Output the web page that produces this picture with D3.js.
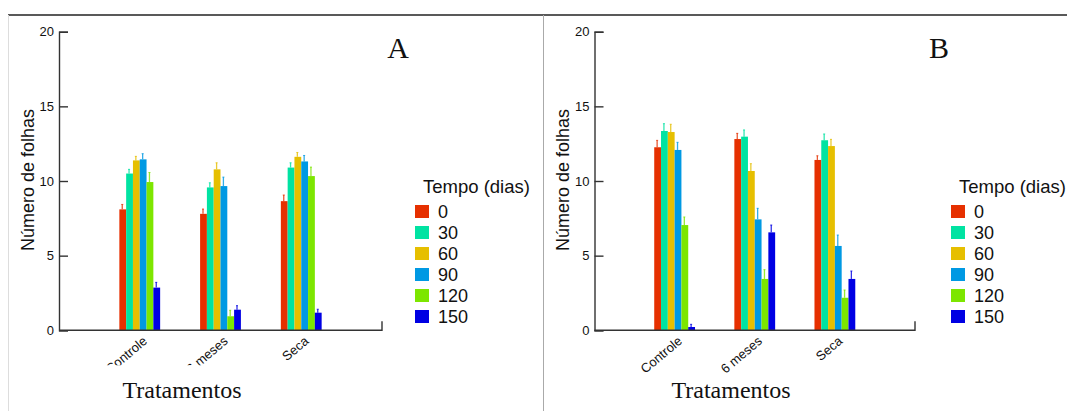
<!DOCTYPE html>
<html>
<head>
<meta charset="utf-8">
<title>Número de folhas</title>
<script src="https://d3js.org/d3.v7.min.js"></script>
<style>
  body { margin: 0; background: #fff; }
  svg text { font-family: "Liberation Sans", Arial, sans-serif; }
</style>
</head>
<body>
<svg width="1067" height="411"></svg>
<script>
    // data
    const categories = ["Controle", "6 meses", "Seca"];
    const series = ["0", "30", "60", "90", "120", "150"];
    const colors = ["#e63000", "#00e3a2", "#e6bf00", "#0099e3", "#7de600", "#0000e3"];
    const yTicks = [0, 5, 10, 15, 20];

    // panel A: mean per series (rows) and category (cols), then upper error
    const meanA = [
        [8.1, 7.8, 8.65],
        [10.5, 9.57, 10.9],
        [11.38, 10.78, 11.62],
        [11.45, 9.66, 11.31],
        [9.93, 0.94, 10.33],
        [2.86, 1.38, 1.18]
    ];
    const errA = [
        [8.43, 8.12, 9.06],
        [10.78, 9.88, 11.22],
        [11.65, 11.22, 11.91],
        [11.83, 10.26, 11.71],
        [10.57, 1.34, 10.93],
        [3.21, 1.65, 1.41]
    ];
    // panel B
    const meanB = [
        [12.26, 12.81, 11.41],
        [13.35, 12.97, 12.73],
        [13.28, 10.67, 12.34],
        [12.08, 7.43, 5.65],
        [7.05, 3.44, 2.18],
        [0.22, 6.56, 3.44]
    ];
    const errB = [
        [12.72, 13.19, 11.69],
        [13.84, 13.42, 13.15],
        [13.8, 11.16, 12.79],
        [12.59, 8.17, 6.38],
        [7.59, 4.06, 2.7],
        [0.4, 7.05, 3.97]
    ];

    const svg = d3.select("svg");

    // frame lines
    svg.append("line").attr("x1", 8).attr("x2", 1067).attr("y1", 15).attr("y2", 15)
        .attr("stroke", "#222").attr("stroke-width", 1.3);
    svg.append("line").attr("x1", 8.5).attr("x2", 8.5).attr("y1", 15).attr("y2", 411)
        .attr("stroke", "#ddd").attr("stroke-width", 1);
    svg.append("line").attr("x1", 543.5).attr("x2", 543.5).attr("y1", 15).attr("y2", 411)
        .attr("stroke", "#aaa").attr("stroke-width", 1);

    const panel = (cfg, means, errs) => {
        const y = d3.scaleLinear().domain([0, 20]).range([330.3, 31.7]);
        const x = d3.scalePoint().domain(categories).range([cfg.x0, cfg.x1]).padding(1);
        const xs = d3.scaleBand().domain(series).range([-20.4, 20.4]).padding(0);

        const g = svg.append("g");

        // bars
        series.forEach((s, i) => {
            const col = colors[i];
            categories.forEach((c, j) => {
                const bx = x(c) + xs(s);
                g.append("rect")
                    .attr("x", bx)
                    .attr("y", y(means[i][j]))
                    .attr("width", xs.bandwidth())
                    .attr("height", y(0) - y(means[i][j]))
                    .attr("fill", col);
                const ex = bx + xs.bandwidth() / 2 - 0.5;
                g.append("line")
                    .attr("x1", ex).attr("x2", ex)
                    .attr("y1", y(means[i][j])).attr("y2", y(errs[i][j]))
                    .attr("stroke", col).attr("stroke-width", 1.3).attr("opacity", 0.8);
                g.append("line")
                    .attr("x1", ex - 1).attr("x2", ex + 1)
                    .attr("y1", y(errs[i][j])).attr("y2", y(errs[i][j]))
                    .attr("stroke", col).attr("stroke-width", 1).attr("opacity", 0.8);
            });
        });

        // y axis
        const ya = g.append("g")
            .attr("transform", `translate(${cfg.x0},0)`)
            .call(d3.axisLeft(y).tickValues(yTicks).tickSize(-9).tickPadding(5));
        ya.select(".domain").attr("stroke", "#333").attr("stroke-width", 1.4);
        ya.selectAll(".tick line").attr("stroke", "#333").attr("stroke-width", 1.4);
        ya.selectAll(".tick text").attr("font-size", 13).attr("fill", "#111")
            .attr("font-family", "Liberation Sans, Arial, sans-serif");

        // x axis, labels clipped below like the original
        const clipId = "clip" + cfg.name;
        svg.append("clipPath").attr("id", clipId).append("rect")
            .attr("x", cfg.x0 - 40).attr("y", y(0)).attr("width", cfg.x1 - cfg.x0 + 40).attr("height", cfg.clipH);
        const xa = g.append("g")
            .attr("clip-path", `url(#${clipId})`)
            .append("g")
            .attr("transform", `translate(0,${y(0)})`)
            .call(d3.axisBottom(x).tickSize(0).tickPadding(8));
        xa.select(".domain").remove();
        xa.selectAll(".tick text")
            .attr("font-size", 13).attr("fill", "#111")
            .attr("font-family", "Liberation Sans, Arial, sans-serif")
            .attr("text-anchor", "end")
            .attr("dy", "0.2em")
            .attr("transform", "translate(1,4) rotate(-40)");
        g.append("path")
            .attr("d", `M${cfg.x0},${y(0)}H${cfg.x1}V${y(0) - 9}`)
            .attr("fill", "none").attr("stroke", "#333").attr("stroke-width", 1.4);

        // axis titles
        svg.append("text")
            .attr("transform", `translate(${cfg.ytx},180) rotate(-90)`)
            .attr("text-anchor", "middle")
            .attr("font-size", 18).attr("fill", "#111")
            .text("Número de folhas");
        svg.append("text")
            .attr("x", cfg.ttx).attr("y", 398)
            .attr("text-anchor", "middle")
            .style("font-family", "'Liberation Serif', 'DejaVu Serif', serif")
            .attr("font-size", 24).attr("fill", "#111")
            .text("Tratamentos");
        svg.append("text")
            .attr("x", cfg.lx).attr("y", 58)
            .attr("text-anchor", "middle")
            .style("font-family", "'Liberation Serif', 'DejaVu Serif', serif")
            .attr("font-size", 30).attr("fill", "#111")
            .text(cfg.name);

        // legend
        const lg = svg.append("g").attr("transform", `translate(${cfg.legX},0)`);
        lg.append("text").attr("x", 8).attr("y", 193)
            .attr("font-size", 18.5).attr("fill", "#111").text("Tempo (dias)");
        series.forEach((s, i) => {
            lg.append("rect").attr("x", 0).attr("y", 205 + i * 21).attr("width", 14).attr("height", 13)
                .attr("fill", colors[i]);
            lg.append("text").attr("x", 23).attr("y", 218 + i * 21)
                .attr("font-size", 18).attr("fill", "#111").text(s);
        });
    };

    panel({ name: "A", x0: 59, x1: 382, clipH: 35, ytx: 34, ttx: 182, lx: 398, legX: 415 }, meanA, errA);
    panel({ name: "B", x0: 594.5, x1: 915, clipH: 43, ytx: 569, ttx: 731, lx: 939, legX: 951 }, meanB, errB);
</script>
</body>
</html>
